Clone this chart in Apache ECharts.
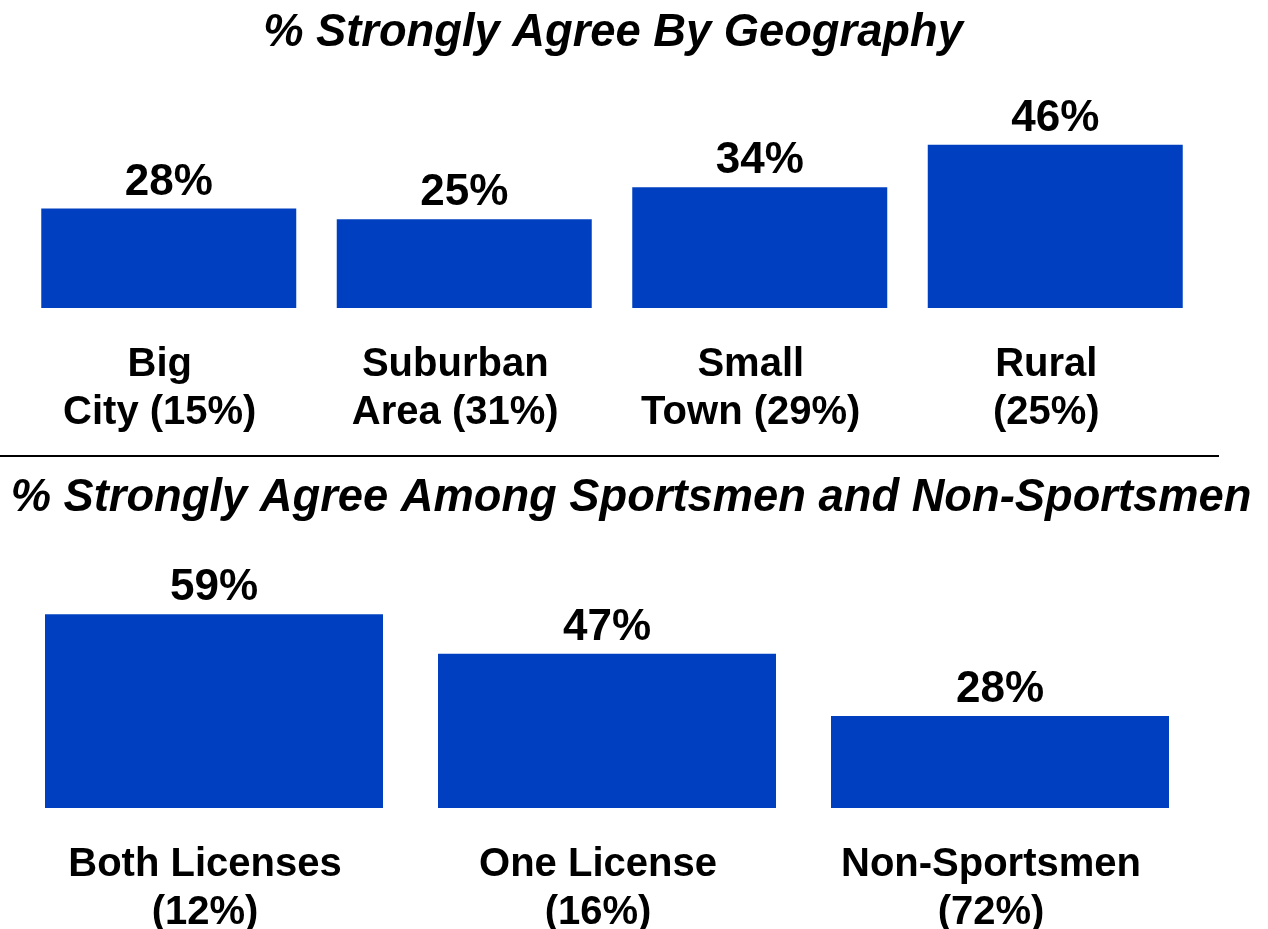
<!DOCTYPE html>
<html>
<head>
<meta charset="utf-8">
<script src="https://cdn.jsdelivr.net/npm/echarts@6/dist/echarts.min.js"></script>
<style>
  html, body { margin: 0; padding: 0; background: #ffffff; }
  #chart { width: 1268px; height: 929px; }
</style>
</head>
<body>
<div id="chart"></div>
<script>
// Geography panel
const geoCategories = ['Big\nCity (15%)', 'Suburban\nArea (31%)', 'Small\nTown (29%)', 'Rural\n(25%)'];
const geoValues = [28, 25, 34, 46];

// Sportsmen panel
const sportCategories = ['Both Licenses\n(12%)', 'One License\n(16%)', 'Non-Sportsmen\n(72%)'];
const sportValues = [59, 47, 28];

const titles = ['% Strongly Agree By Geography', '% Strongly Agree Among Sportsmen and Non-Sportsmen'];

const FONT = '"Liberation Sans", Arial, Helvetica, sans-serif';
const BAR_COLOR = '#0040C0';

const chart = echarts.init(document.getElementById('chart'), null, { renderer: 'canvas' });

function catAxis(gridIndex, data) {
  return {
    type: 'category',
    gridIndex: gridIndex,
    data: data,
    axisLine: { show: false },
    axisTick: { show: false },
    axisLabel: {
      color: '#000',
      fontFamily: FONT,
      fontWeight: 'bold',
      fontSize: 40,
      lineHeight: 48,
      margin: 33,
      padding: [0, 18, 0, 0],
      interval: 0
    }
  };
}

function valAxis(gridIndex, max) {
  return {
    type: 'value',
    gridIndex: gridIndex,
    min: 0,
    max: max,
    show: false,
    splitLine: { show: false }
  };
}

function barSeries(axisIndex, data, width) {
  return {
    type: 'bar',
    xAxisIndex: axisIndex,
    yAxisIndex: axisIndex,
    data: data,
    barWidth: width,
    itemStyle: { color: BAR_COLOR },
    label: {
      show: true,
      position: 'top',
      distance: 4,
      color: '#000',
      fontFamily: FONT,
      fontWeight: 'bold',
      fontSize: 44,
      formatter: p => p.value + '%'
    },
    animation: false
  };
}

const titleStyle = { fontFamily: FONT, fontWeight: 'bold', fontStyle: 'italic', fontSize: 45.3, color: '#000' };

chart.setOption({
  backgroundColor: '#ffffff',
  animation: false,
  title: [
    { text: titles[0], left: 608, top: 6, textAlign: 'center', textStyle: titleStyle },
    { text: titles[1], left: 626, top: 471, textAlign: 'center', textStyle: titleStyle }
  ],
  grid: [
    { left: 21, right: 65, top: 130.5, bottom: 621, outerBoundsMode: 'none', containLabel: false },
    { left: 17.5, right: 71.5, top: 611, bottom: 121, outerBoundsMode: 'none', containLabel: false }
  ],
  xAxis: [catAxis(0, geoCategories), catAxis(1, sportCategories)],
  yAxis: [valAxis(0, 50), valAxis(1, 60)],
  series: [barSeries(0, geoValues, 255), barSeries(1, sportValues, 338)],
  graphic: [
    {
      type: 'line',
      shape: { x1: 0, y1: 456, x2: 1219, y2: 456 },
      style: { stroke: '#000', lineWidth: 2 }
    }
  ]
});
</script>
</body>
</html>
